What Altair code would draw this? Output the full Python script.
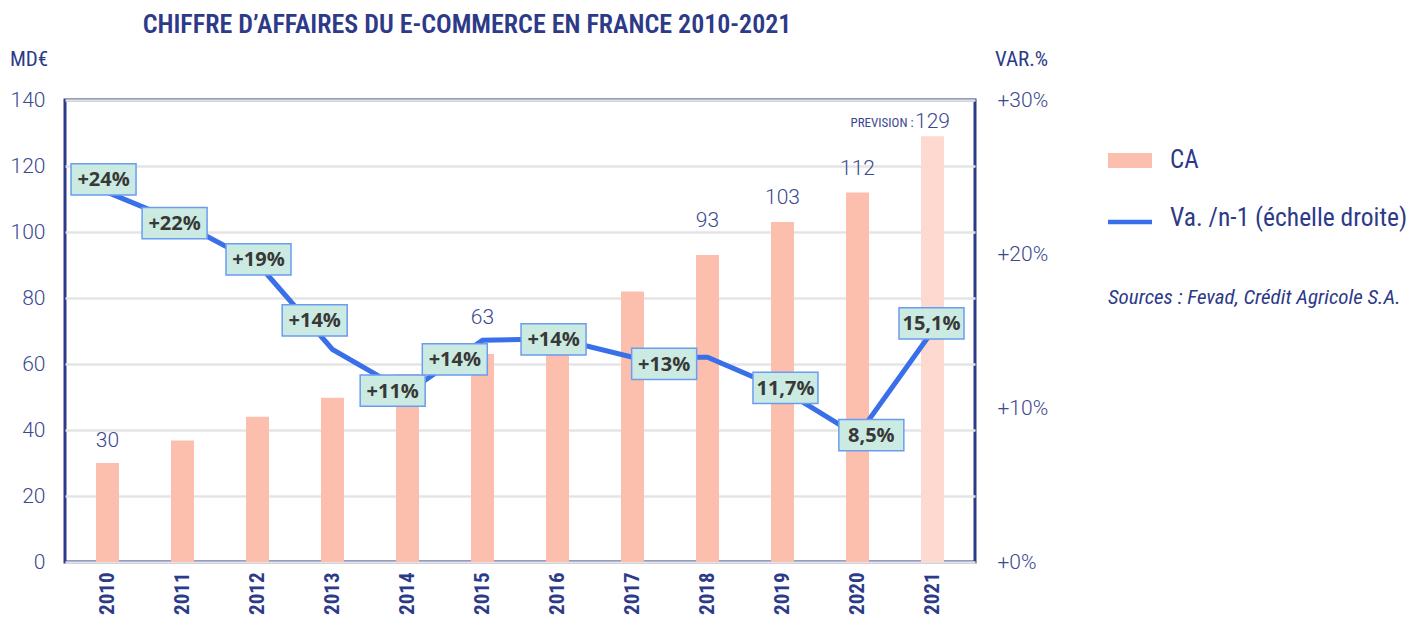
import altair as alt
import pandas as pd

# ---------------- data ----------------
years = list(range(2010, 2022))
ca_values = [30, 36.8, 44, 49.8, 57, 63, 72, 82, 93, 103, 112, 129]
forecast = ["réel"] * 11 + ["prévision"]

var_values = [24.0, 22.0, 19.4, 13.8, 11.0, 14.4, 14.5, 13.3, 13.3, 11.2, 8.2, 15.0]

label_years = [2010, 2011, 2012, 2013, 2014, 2015, 2016, 2017, 2019, 2020, 2021]
label_values = [24, 22, 19, 14, 11, 14, 14, 13, 11.7, 8.5, 15.1]
label_texts = ["+24%", "+22%", "+19%", "+14%", "+11%", "+14%", "+14%", "+13%", "11,7%", "8,5%", "15,1%"]
# placement nudges of the annotation boxes (pixels)
label_dx_px = [-4, -8, 1, -18, -15, -28, -4, 32, 3, 14, -1]
label_dy_px = [-13, 0, -10, -26, -2, 13, -7, 2, 6, 4, -6]

value_label_years = [2010, 2015, 2018, 2019, 2020, 2021]
value_label_texts = ["30", "63", "93", "103", "112", "129"]
value_label_gap_px = [12, 26, 24, 14, 13, 4]

# ---------------- styling ----------------
W, H = 910, 462
X_DOMAIN = [2009.5, 2021.5]
PX_PER_YEAR = W / 12
PX_PER_CA = H / 140
PX_PER_PCT = H / 30

NAVY = "#2c3a88"
AXIS_TXT = "#3c4890"
BAR = "#fdbfad"
BAR_FC = "#fed9cf"
LINE = "#3a6fea"
BOX_FILL = "#cbeae2"
BOX_STROKE = "#6b9cf0"
COND = "'Roboto Condensed', 'Liberation Sans Narrow', 'Arial Narrow', Roboto"

bars_df = pd.DataFrame({"year": years, "ca": ca_values, "kind": forecast, "var": var_values})
lab_df = pd.DataFrame({"year": label_years, "value": label_values, "text": label_texts,
                       "dx": label_dx_px, "dy": label_dy_px})
val_df = pd.DataFrame({"year": value_label_years, "text": value_label_texts, "gap": value_label_gap_px})
ca_lookup = dict(zip(years, ca_values))
val_df["ca"] = [ca_lookup[y] for y in value_label_years]

X_AXIS = alt.Axis(values=years, format="d", labelAngle=270, labelAlign="right",
                  labelBaseline="middle", labelPadding=10, ticks=False, domain=False,
                  grid=False, labelFont=COND, labelFontSize=21, labelFontWeight="bold",
                  labelColor=NAVY, title=None)
X_SCALE = alt.Scale(domain=X_DOMAIN, nice=False, zero=False)

LEFT_AXIS = alt.Axis(values=list(range(0, 141, 20)), ticks=False, domain=False,
                     grid=True, gridColor="#e4e4e4", gridWidth=2.5,
                     labelFont="Roboto", labelFontWeight=300, labelFontSize=21,
                     labelColor=AXIS_TXT, labelPadding=20, title=None)
RIGHT_AXIS = alt.Axis(orient="right", values=[0, 10, 20, 30], ticks=False, domain=False,
                      grid=False, labelExpr="'+' + datum.value + '%'",
                      labelFont="Roboto", labelFontWeight=300, labelFontSize=21,
                      labelColor=AXIS_TXT, labelPadding=22, title=None)
left_scale = alt.Scale(domain=[0, 140], nice=False)
right_scale = alt.Scale(domain=[0, 30], nice=False)


def xq(f):
    return alt.X(f, scale=X_SCALE, axis=X_AXIS, title=None)


def yl(f):
    return alt.Y(f, scale=left_scale, axis=LEFT_AXIS, title=None)


def yr(f):
    return alt.Y(f, scale=right_scale, axis=RIGHT_AXIS, title=None)


bars = alt.Chart(bars_df).mark_bar(size=23).encode(
    x=xq("year:Q"),
    y=yl("ca:Q"),
    color=alt.Color("kind:N", scale=alt.Scale(domain=["réel", "prévision"], range=[BAR, BAR_FC]),
                    legend=None),
)

val_labels = alt.Chart(val_df).transform_calculate(
    ly=f"datum.ca + datum.gap / {PX_PER_CA}"
).mark_text(font="Roboto", fontWeight=300, fontSize=21, color=AXIS_TXT, baseline="bottom").encode(
    x=xq("year:Q"),
    y=yl("ly:Q"),
    text="text:N",
)

prev_df = pd.DataFrame({"year": [2021], "ca": [ca_values[-1]], "text": ["PREVISION :"]})
prev_label = alt.Chart(prev_df).transform_calculate(
    ly=f"datum.ca + 6 / {PX_PER_CA}"
).mark_text(font=COND, fontSize=13, color=AXIS_TXT, baseline="bottom", align="right", dx=-19).encode(
    x=xq("year:Q"),
    y=yl("ly:Q"),
    text="text:N",
)

left = alt.layer(bars, val_labels, prev_label)

line = alt.Chart(bars_df).mark_line(color=LINE, strokeWidth=5, strokeJoin="miter").encode(
    x=xq("year:Q"),
    y=yr("var:Q"),
)

box_base = alt.Chart(lab_df).transform_calculate(
    lx=f"datum.year + datum.dx / {PX_PER_YEAR}",
    ly=f"datum.value - datum.dy / {PX_PER_PCT}",
)
boxes = box_base.mark_point(
    shape="M-1,-0.48H1V0.48H-1Z", size=65 * 65, filled=True, fill=BOX_FILL, opacity=1,
    stroke=BOX_STROKE, strokeWidth=1.5, strokeOpacity=1,
).encode(
    x=xq("lx:Q"),
    y=yr("ly:Q"),
)
box_text = box_base.mark_text(font="Open Sans", fontWeight="bold", fontSize=20, color="#383838",
                              baseline="middle", dy=1).encode(
    x=xq("lx:Q"),
    y=yr("ly:Q"),
    text="text:N",
)

right = alt.layer(line, boxes, box_text)

# ---------------- annotations (title, units, legend, source) ----------------
one = pd.DataFrame({"k": [0]})


def txt(text, x, y, **kw):
    return alt.Chart(one).mark_text(text=text, **kw).encode(x=alt.value(x), y=alt.value(y))


title = txt("CHIFFRE D’AFFAIRES DU E-COMMERCE EN FRANCE 2010-2021", 402, -75,
            font=COND, fontSize=26, fontWeight=600, color=NAVY, align="center", baseline="middle")
md = txt("MD€", -55, -40, font=COND, fontSize=21, color=NAVY, align="left", baseline="middle")
varp = txt("VAR.%", 930, -40, font=COND, fontSize=21, color=NAVY, align="left", baseline="middle")

leg_rect = alt.Chart(one).mark_rect(color=BAR).encode(
    x=alt.value(1043), x2=alt.value(1087), y=alt.value(53), y2=alt.value(68))
leg_ca = txt("CA", 1105, 60, font=COND, fontSize=25, color=NAVY, align="left", baseline="middle")
leg_line = alt.Chart(one).mark_rule(color=LINE, strokeWidth=4.5).encode(
    x=alt.value(1043), x2=alt.value(1087), y=alt.value(122))
leg_var = txt("Va. /n-1 (échelle droite)", 1105, 118, font=COND, fontSize=25.5, color=NAVY,
              align="left", baseline="middle")
source = txt("Sources : Fevad, Crédit Agricole S.A.", 1043, 198, font=COND, fontSize=21,
             fontStyle="italic", color=NAVY, align="left", baseline="middle")

annotations = alt.layer(title, md, varp, leg_rect, leg_ca, leg_line, leg_var, source)

chart = alt.layer(left, right, annotations).resolve_scale(y="independent").properties(
    width=W, height=H,
    autosize=alt.AutoSizeParams(type="none"),
    padding={"left": 57, "top": 92, "right": 437, "bottom": 56},
    background="white",
).configure_view(stroke=NAVY, strokeWidth=3)

chart.save("out.html", embed_options={"renderer": "svg", "actions": False})
